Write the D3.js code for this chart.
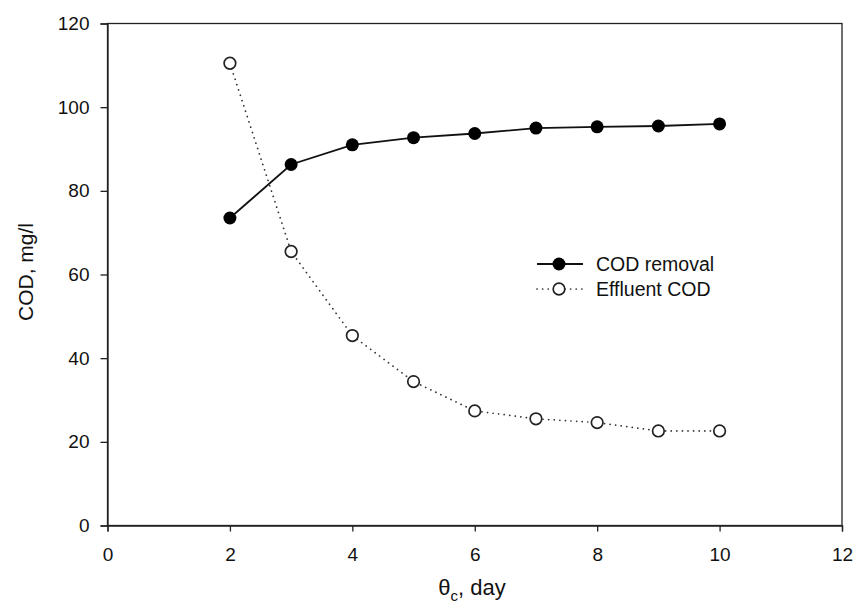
<!DOCTYPE html>
<html>
<head>
<meta charset="UTF-8">
<title>COD vs SRT</title>
<script src="https://d3js.org/d3.v7.min.js"></script>
<style>
  body { margin: 0; background: #fff; }
  svg text { font-family: 'Liberation Sans', Arial, sans-serif; fill: #111; }
</style>
</head>
<body>
<svg id="chart" width="858" height="606"></svg>
<script>
// data
const days = [2, 3, 4, 5, 6, 7, 8, 9, 10];
const codRemoval = [73.5, 86.3, 91.0, 92.7, 93.7, 95.0, 95.3, 95.5, 96.0];
const effluentCod = [110.5, 65.5, 45.4, 34.4, 27.4, 25.5, 24.6, 22.6, 22.6];
const xTicks = [0, 2, 4, 6, 8, 10, 12];
const yTicks = [0, 20, 40, 60, 80, 100, 120];

const svg = d3.select("#chart");
const margin = {top: 23.5, right: 16, bottom: 80.5, left: 107.5};
const W = 858, H = 606;

const x = d3.scaleLinear().domain([0, 12]).range([margin.left, W - margin.right]);
const y = d3.scaleLinear().domain([0, 120]).range([H - margin.bottom, margin.top]);

// frame
svg.append("rect")
  .attr("x", x(0)).attr("y", y(120))
  .attr("width", x(12) - x(0)).attr("height", y(0) - y(120))
  .attr("fill", "none").attr("stroke", "#222").attr("stroke-width", 1.3);

const xAxis = svg.append("g")
  .attr("transform", `translate(0,${y(0)})`)
  .call(d3.axisBottom(x).tickValues(xTicks).tickSize(6).tickPadding(16));
const yAxis = svg.append("g")
  .attr("transform", `translate(${x(0)},0)`)
  .call(d3.axisLeft(y).tickValues(yTicks).tickSize(7).tickPadding(11));

[xAxis, yAxis].forEach(a => {
  a.select(".domain").attr("stroke", "#222").attr("stroke-width", 1.3);
  a.selectAll(".tick line").attr("stroke", "#222").attr("stroke-width", 1.3);
  a.selectAll(".tick text").attr("font-size", 19).attr("fill", "#111");
});

// axis labels
const xl = svg.append("text")
  .attr("x", 472).attr("y", 595)
  .attr("text-anchor", "middle").attr("font-size", 22);
xl.append("tspan").text("θ");
xl.append("tspan").attr("font-size", 15).attr("dy", 6).text("c");
xl.append("tspan").attr("dy", -6).text(", day");

svg.append("text")
  .attr("transform", `translate(33,272) rotate(-90)`)
  .attr("text-anchor", "middle").attr("font-size", 21)
  .text("COD, mg/l");

// series
const line = (vals) => d3.line().x((d, i) => x(days[i])).y(d => y(d))(vals);

svg.append("path")
  .attr("d", line(effluentCod))
  .attr("fill", "none").attr("stroke", "#333").attr("stroke-width", 1.7)
  .attr("stroke-dasharray", "0.1,5.5").attr("stroke-linecap", "round");

svg.append("path")
  .attr("d", line(codRemoval))
  .attr("fill", "none").attr("stroke", "#111").attr("stroke-width", 1.8);

svg.selectAll(".eff").data(effluentCod).enter().append("circle")
  .attr("cx", (d, i) => x(days[i])).attr("cy", d => y(d))
  .attr("r", 5.8).attr("fill", "#fff").attr("stroke", "#222").attr("stroke-width", 1.7);

svg.selectAll(".rem").data(codRemoval).enter().append("circle")
  .attr("cx", (d, i) => x(days[i])).attr("cy", d => y(d))
  .attr("r", 6.5).attr("fill", "#000");

// legend
const legend = svg.append("g");
const lx0 = 537, lx1 = 583, lxm = 559, ltx = 596;
legend.append("line").attr("x1", lx0).attr("x2", lx1).attr("y1", 264).attr("y2", 264)
  .attr("stroke", "#111").attr("stroke-width", 1.8);
legend.append("circle").attr("cx", lxm).attr("cy", 264).attr("r", 6.5).attr("fill", "#000");
legend.append("text").attr("x", ltx).attr("y", 264).attr("dy", "0.35em")
  .attr("font-size", 19.5).text("COD removal");

legend.append("line").attr("x1", lx0).attr("x2", lx1).attr("y1", 289).attr("y2", 289)
  .attr("stroke", "#333").attr("stroke-width", 1.7)
  .attr("stroke-dasharray", "0.1,5.5").attr("stroke-linecap", "round");
legend.append("circle").attr("cx", lxm).attr("cy", 289).attr("r", 5.8)
  .attr("fill", "#fff").attr("stroke", "#222").attr("stroke-width", 1.7);
legend.append("text").attr("x", ltx).attr("y", 289).attr("dy", "0.35em")
  .attr("font-size", 19.5).text("Effluent COD");
</script>
</body>
</html>
